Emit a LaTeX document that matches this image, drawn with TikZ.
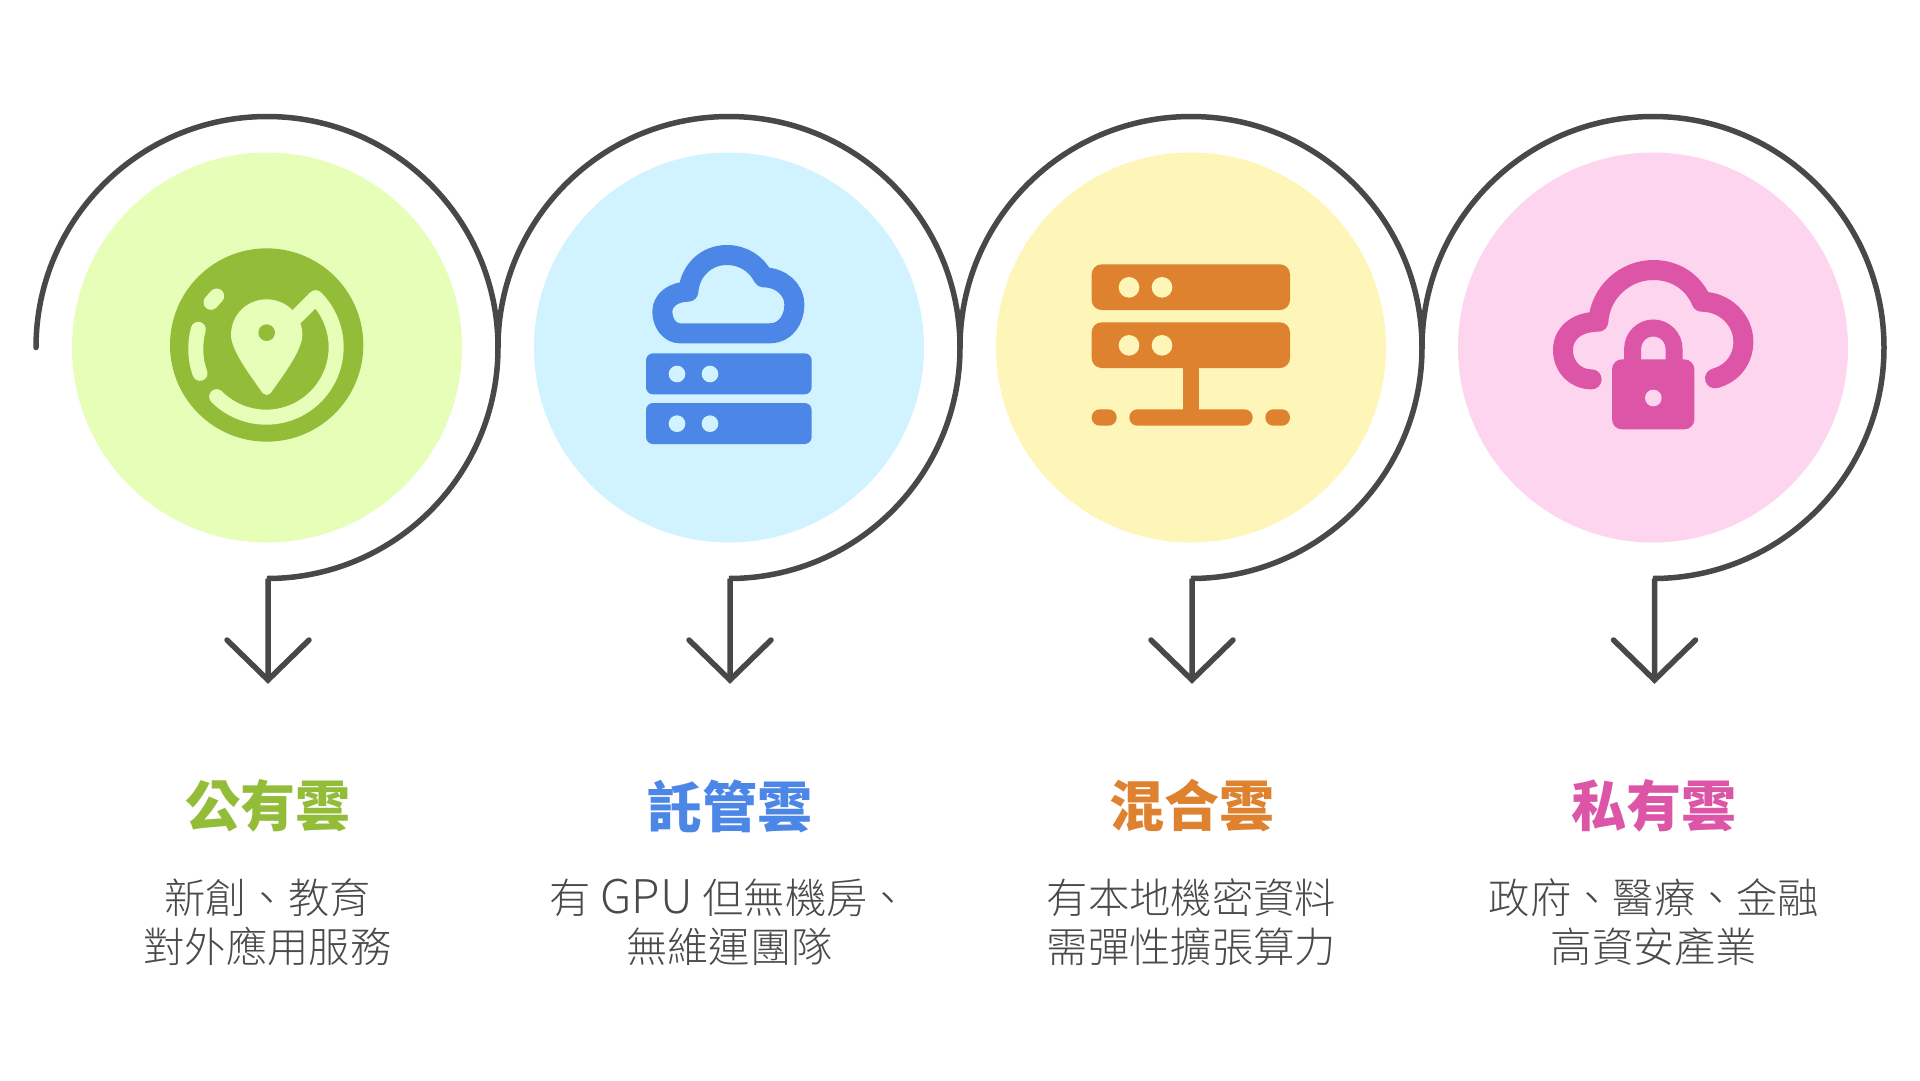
\documentclass[tikz,border=0pt]{standalone}
\usepackage{fontspec}
\setmainfont{Noto Sans CJK TC}
\newfontfamily\bodyfont{Noto Sans CJK TC Light}
\definecolor{ringc}{HTML}{484848}
\definecolor{bodyc}{HTML}{4A4A4A}
\definecolor{gfg}{HTML}{93BD39}\definecolor{gbg}{HTML}{E7FEB9}
\definecolor{bfg}{HTML}{4C87E7}\definecolor{bbg}{HTML}{D1F3FF}
\definecolor{ofg}{HTML}{DE8230}\definecolor{obg}{HTML}{FEF6B8}
\definecolor{pfg}{HTML}{DD55A6}\definecolor{pbg}{HTML}{FED5EF}
\tikzset{
  ringline/.style={draw=ringc,line width=5.5pt,line cap=round,line join=miter},
  titletext/.style={font=\fontsize{55}{60}\selectfont\bfseries,inner sep=0pt},
  bodytext/.style={font=\bodyfont\fontsize{41.3}{49}\selectfont,text=bodyc,align=center,inner sep=0pt},
}
\newcommand{\stagecol}[8]{% id, x disc, x arrow, bg, fg, title, line1, line2
  \node[circle,fill=#4,minimum size=390pt,inner sep=0pt] (disc#1) at (#2,347.5) {};
  \coordinate (rs#1) at (#2-231,347.5);
  \coordinate (rb#1) at (#3,578.5);
  \coordinate (tip#1) at (#3,680);
  \coordinate (wl#1) at (#3-41,640);
  \coordinate (wr#1) at (#3+41,640);
  \draw[ringline] (rs#1) arc[start angle=180,end angle=450,radius=231] -- (rb#1) -- (tip#1);
  \draw[ringline] (wl#1) -- (tip#1) -- (wr#1);
  \node[titletext,text=#5] (title#1) at (#3-0.5,806) {#6};
  \node[bodytext] (body#1) at (#3-0.5,922) {#7\\#8};
}
\begin{document}
\begin{tikzpicture}[x=1pt,y=1pt,yscale=-1]
\useasboundingbox (0,0) rectangle (1920,1080);
\fill[white] (0,0) rectangle (1920,1080);
\stagecol{a}{267}{268}{gbg}{gfg}{公有雲}{新創、教育}{對外應用服務}
\stagecol{b}{729}{730}{bbg}{bfg}{託管雲}{有\hspace{9.5pt}{\fontsize{46.4}{49}\selectfont GPU}\hspace{9.5pt}但無機房、}{無維運團隊}
\stagecol{c}{1191}{1192}{obg}{ofg}{混合雲}{有本地機密資料}{需彈性擴張算力}
\stagecol{d}{1653}{1654.5}{pbg}{pfg}{私有雲}{政府、醫療、金融}{高資安產業}
% icon 1
\begin{scope}[shift={(140,220)},scale=1/3]
  \fill[gfg] (380,375) circle[radius=290];
  \begin{scope}[draw=gbg,line width=15pt,line cap=round,line join=round]
    \draw (230,530) arc[start angle=135,end angle=-45,radius=210] -- (470,290);
    \draw (175,328) .. controls (163,372) and (165,420) .. (180,460);
    \draw (213,247) -- (230,228);
  \end{scope}
  \fill[gbg] (380,525) .. controls (370,525) and (368,518) .. (360,508)
     .. controls (330,465) and (273,390) .. (273,345)
     .. controls (273,285) and (320,238) .. (380,238)
     .. controls (440,238) and (487,285) .. (487,345)
     .. controls (487,390) and (430,465) .. (400,508)
     .. controls (392,518) and (390,525) .. (380,525) -- cycle;
  \fill[gfg] (380,338) circle[radius=25];
\end{scope}
% icon 2
\begin{scope}[shift={(610,220)},scale=1/3]
  \draw[bfg,line width=20pt,line join=round]
    (210,340) -- (480,340) .. controls (525,340) and (553,300) .. (553,255)
    .. controls (553,205) and (510,172) .. (460,172)
    .. controls (440,132) and (400,105) .. (350,105)
    .. controls (290,105) and (240,150) .. (235,215)
    .. controls (190,215) and (157,240) .. (157,275)
    .. controls (157,310) and (180,340) .. (210,340) -- cycle;
  \fill[bfg,rounded corners=7pt] (108,400) rectangle (605,523);
  \fill[bfg,rounded corners=7pt] (108,549) rectangle (605,672);
  \foreach \yy in {462,611}{\foreach \xx in {201,300}{\fill[bbg] (\xx,\yy) circle[radius=25];}}
\end{scope}
% icon 3
\begin{scope}[shift={(1070,240)},scale=1/3]
  \fill[ofg,rounded corners=10pt] (65,73) rectangle (660,210);
  \fill[ofg,rounded corners=10pt] (65,247) rectangle (660,384);
  \fill[ofg] (339,380) rectangle (388,520);
  \fill[ofg,rounded corners=8pt] (178,508) rectangle (548,557);
  \fill[ofg,rounded corners=8pt] (65,508) rectangle (140,557);
  \fill[ofg,rounded corners=8pt] (586,508) rectangle (660,557);
  \foreach \yy in {142,316}{\foreach \xx in {177,276}{\fill[obg] (\xx,\yy) circle[radius=31];}}
\end{scope}
% icon 4
\begin{scope}[shift={(1530,240)},scale=1/3]
  \draw[pfg,line width=20pt,line cap=round,line join=round]
    (185,418) .. controls (135,418) and (99,380) .. (99,330)
    .. controls (99,280) and (140,245) .. (205,245)
    .. controls (210,157) and (285,90) .. (370,90)
    .. controls (435,90) and (490,125) .. (515,185)
    .. controls (585,185) and (640,240) .. (640,305)
    .. controls (640,360) and (605,402) .. (555,415);
  \draw[pfg,line width=17pt] (308,365) -- (308,326) arc[start angle=180,end angle=360,radius=62] -- (432,365);
  \fill[pfg,rounded corners=10pt] (246,358) rectangle (493,568);
  \fill[pbg] (370,474) circle[radius=25];
\end{scope}
\end{tikzpicture}
\end{document}
